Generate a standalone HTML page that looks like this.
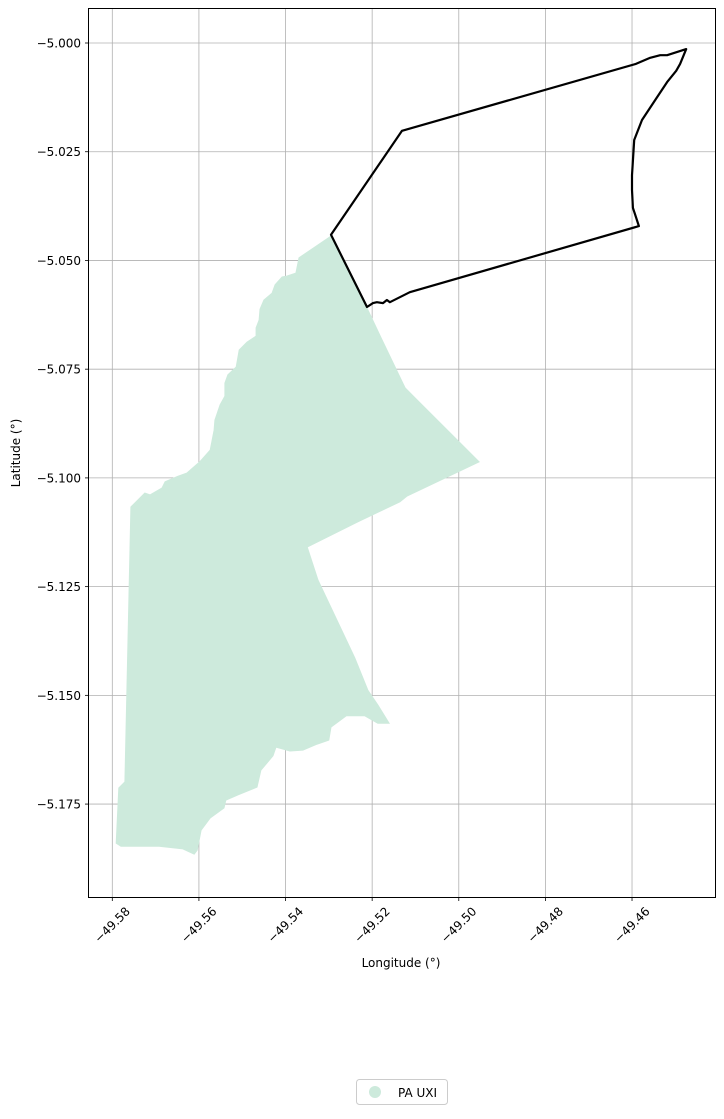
<!DOCTYPE html>
<html><head><meta charset="utf-8"><style>
body{margin:0;background:#fff;}
svg text{font-family:"DejaVu Sans","Liberation Sans",sans-serif;font-size:12px;fill:#000;}
</style></head><body>
<svg id="chart" width="724" height="1114" xmlns="http://www.w3.org/2000/svg">
<rect x="0" y="0" width="724" height="1114" fill="#fff"/>
<g id="grid"></g>
<g id="shapes"></g>
<rect x="88.5" y="8.5" width="627" height="889" fill="none" stroke="#000" stroke-width="1"/>
<g id="ticks"></g>
<text x="401" y="967" text-anchor="middle">Longitude (°)</text>
<text x="20" y="453" text-anchor="middle" transform="rotate(-90 20 453)">Latitude (°)</text>
<g>
<rect x="356.5" y="1079.5" width="91" height="25" rx="3" fill="#fff" stroke="#ccc"/>
<circle cx="375" cy="1092" r="6" fill="#cdeadc"/>
<text x="398" y="1097">PA UXI</text>
</g>
</svg>
<script>
const xTicks=[-49.58,-49.56,-49.54,-49.52,-49.50,-49.48,-49.46];
const xTickLabels=["\u221249.58","\u221249.56","\u221249.54","\u221249.52","\u221249.50","\u221249.48","\u221249.46"];
const yTicks=[-5.000,-5.025,-5.050,-5.075,-5.100,-5.125,-5.150,-5.175];
const yTickLabels=["\u22125.000","\u22125.025","\u22125.050","\u22125.075","\u22125.100","\u22125.125","\u22125.150","\u22125.175"];
const uxiLon=[-49.5295,-49.5214,-49.5177,-49.5124,-49.5101,-49.4953,-49.5120,-49.5136,-49.5233,-49.5350,-49.5325,-49.5240,-49.5210,-49.5187,-49.5161,-49.5187,-49.5217,-49.5260,-49.5295,-49.5300,-49.5327,-49.5360,-49.5390,-49.5422,-49.5429,-49.5457,-49.5466,-49.5510,-49.5538,-49.5542,-49.5574,-49.5595,-49.5604,-49.5611,-49.5637,-49.5692,-49.5741,-49.5780,-49.5791,-49.5785,-49.5771,-49.5757,-49.5734,-49.5725,-49.5713,-49.5685,-49.5678,-49.5648,-49.5628,-49.5598,-49.5574,-49.5565,-49.5563,-49.5551,-49.5540,-49.5540,-49.5533,-49.5514,-49.5507,-49.5489,-49.5468,-49.5468,-49.5461,-49.5459,-49.5450,-49.5431,-49.5424,-49.5408,-49.5397,-49.5376,-49.5369];
const uxiLat=[-5.0444,-5.0605,-5.0683,-5.0793,-5.0816,-5.0963,-5.1042,-5.1055,-5.1101,-5.1159,-5.1235,-5.1414,-5.1488,-5.1522,-5.1564,-5.1564,-5.1547,-5.1547,-5.1573,-5.1603,-5.1612,-5.1626,-5.1628,-5.1619,-5.1639,-5.1672,-5.1711,-5.1729,-5.1741,-5.1759,-5.1782,-5.1810,-5.1856,-5.1865,-5.1853,-5.1847,-5.1847,-5.1847,-5.1840,-5.1713,-5.1699,-5.1067,-5.1044,-5.1035,-5.1039,-5.1023,-5.1009,-5.0996,-5.0989,-5.0963,-5.0936,-5.0890,-5.0867,-5.0832,-5.0812,-5.0782,-5.0763,-5.0745,-5.0706,-5.0688,-5.0674,-5.0655,-5.0637,-5.0612,-5.0591,-5.0575,-5.0556,-5.0538,-5.0536,-5.0529,-5.0494];
const areaLon=[-49.5295,-49.5131,-49.4591,-49.4558,-49.4535,-49.4519,-49.4475,-49.4489,-49.4498,-49.4519,-49.4545,-49.4577,-49.4595,-49.4600,-49.4600,-49.4598,-49.4584,-49.5113,-49.5159,-49.5166,-49.5175,-49.5189,-49.5198,-49.5212];
const areaLat=[-5.0441,-5.0202,-5.0048,-5.0034,-5.0028,-5.0028,-5.0014,-5.0048,-5.0064,-5.0090,-5.0129,-5.0177,-5.0223,-5.0304,-5.0338,-5.0379,-5.0421,-5.0573,-5.0596,-5.0591,-5.0598,-5.0596,-5.0598,-5.0607];

const NS="http://www.w3.org/2000/svg";
function sx(lon){return 112.3+(lon+49.58)*4331;}
function sy(lat){return 43+(-5-lat)*4349;}
function mk(tag,attrs,parent){const e=document.createElementNS(NS,tag);for(const k in attrs)e.setAttribute(k,attrs[k]);parent.appendChild(e);return e;}
const grid=document.getElementById('grid'),ticks=document.getElementById('ticks'),shapes=document.getElementById('shapes');
xTicks.forEach((v,i)=>{
  const x=sx(v);
  const g=mk('line',{x1:x,x2:x,y1:8.5,y2:897.5,stroke:'#b0b0b0','stroke-width':0.8},grid);
  
  
  const t=mk('line',{x1:x,x2:x,y1:897.5,y2:901,stroke:'#000','stroke-width':0.8},ticks);
  
  
  const lb=mk('text',{x:x,y:929,'text-anchor':'middle',transform:'rotate(-45 '+x+' 925)'},ticks);
  lb.textContent=xTickLabels[i];
  
  
});
yTicks.forEach((v,i)=>{
  const y=sy(v);
  const g=mk('line',{x1:88.5,x2:715.5,y1:y,y2:y,stroke:'#b0b0b0','stroke-width':0.8},grid);
  
  
  const t=mk('line',{x1:85,x2:88.5,y1:y,y2:y,stroke:'#000','stroke-width':0.8},ticks);
  
  
  const lb=mk('text',{x:81,y:y+4.5,'text-anchor':'end'},ticks);
  lb.textContent=yTickLabels[i];
  
  
});
function pts(lo,la){return lo.map((v,i)=>sx(v).toFixed(1)+','+sy(la[i]).toFixed(1)).join(' ');}
const p1=mk('polygon',{points:pts(uxiLon,uxiLat),fill:'#cdeadc',stroke:'#cdeadc','stroke-width':1},shapes);


const p2=mk('polygon',{points:pts(areaLon,areaLat),fill:'none',stroke:'#000','stroke-width':2.2,'stroke-linejoin':'round'},shapes);


</script>
</body></html>
